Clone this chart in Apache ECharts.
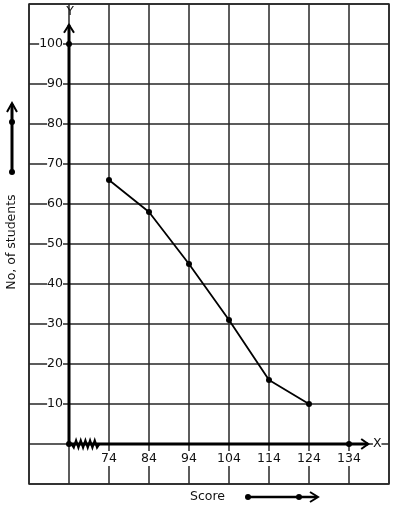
<!DOCTYPE html>
<html><head><meta charset="utf-8">
<script src="https://cdn.jsdelivr.net/npm/echarts@6/dist/echarts.min.js"></script>
<style>html,body{margin:0;padding:0;background:#fff}#c{width:394px;height:510px}</style>
</head><body><div id="c"></div>
<script>
const scores = [74, 84, 94, 104, 114, 124];
const students = [66, 58, 45, 31, 16, 10];
const xTickLabels = [74, 84, 94, 104, 114, 124, 134];
const yTickLabels = [10, 20, 30, 40, 50, 60, 70, 80, 90, 100];
const xRange = [54, 144];
const yRange = [-10, 110];
const origin = [64, 0];
const axisDots = [[64, 0], [64, 100], [134, 0]];
const xAxisEnd = 138.8;
const yAxisEnd = 104.8;
const breakRange = [64.6, 71.6];
const breakTeeth = 6;

const chart = echarts.init(document.getElementById('c'), null, {renderer: 'canvas'});
const font = 'DejaVu Sans';
const ink = '#111';
const gridColor = '#262626';

chart.setOption({
  animation: false,
  grid: {left: 29, top: 4, width: 360, height: 480, show: true, borderColor: gridColor, borderWidth: 1.5, backgroundColor: '#fff'},
  xAxis: {
    type: 'value', min: xRange[0], max: xRange[1], interval: 10, offset: -40,
    axisLine: {show: false, onZero: false}, axisTick: {show: false},
    splitLine: {show: true, lineStyle: {color: gridColor, width: 1.5}},
    axisLabel: {margin: 7, fontFamily: font, fontSize: 12.5, color: ink, backgroundColor: '#fff', padding: [1, 0],
      formatter: v => xTickLabels.includes(v) ? String(v) : ''}
  },
  yAxis: {
    type: 'value', min: yRange[0], max: yRange[1], interval: 10, offset: -40,
    axisLine: {show: false, onZero: false}, axisTick: {show: false},
    splitLine: {show: true, lineStyle: {color: gridColor, width: 1.5}},
    axisLabel: {margin: 6, fontFamily: font, fontSize: 12.5, color: ink, backgroundColor: '#fff', padding: [0, 0],
      formatter: v => yTickLabels.includes(v) ? String(v) : ''}
  },
  series: [{
    type: 'line', data: scores.map((s, i) => [s, students[i]]),
    symbol: 'circle', symbolSize: 6, z: 5,
    lineStyle: {color: '#000', width: 1.8}, itemStyle: {color: '#000'}
  }]
});

const P = (x, y) => chart.convertToPixel({gridIndex: 0}, [x, y]);
const o = P(origin[0], origin[1]);
const yTop = P(origin[0], yAxisEnd);
const xEnd = P(xAxisEnd, origin[1]);
const b0 = P(breakRange[0], 0), b1 = P(breakRange[1], 0);
const zig = [];
const n = breakTeeth * 2;
for (let i = 0; i <= n; i++) {
  zig.push([b0[0] + (b1[0] - b0[0]) * i / n, o[1] + (i === 0 || i === n ? 0 : (i % 2 ? 3.5 : -3.5))]);
}
const blk = '#000';
const line = (x1, y1, x2, y2, w) => ({type: 'line', shape: {x1, y1, x2, y2}, style: {stroke: blk, lineWidth: w}});
const poly = (pts, w) => ({type: 'polyline', shape: {points: pts}, style: {stroke: blk, lineWidth: w, fill: null}});
const dot = (x, y, r) => ({type: 'circle', shape: {cx: x, cy: y, r: r || 3}, style: {fill: blk}});
const txt = (x, y, t, extra) => Object.assign({type: 'text', x, y, style: {text: t, font: '12.5px "DejaVu Sans"', fill: ink, textAlign: 'center', textVerticalAlign: 'middle'}}, extra || {});

const g = [];
g.push(line(o[0], o[1], yTop[0], yTop[1], 3));
g.push(poly([[yTop[0] - 5, yTop[1] + 8], [yTop[0], yTop[1]], [yTop[0] + 5, yTop[1] + 8]], 2));
g.push(line(o[0], o[1], xEnd[0], xEnd[1], 3));
g.push(poly([[xEnd[0] - 7, xEnd[1] - 5], [xEnd[0], xEnd[1]], [xEnd[0] - 7, xEnd[1] + 5]], 2));
g.push(poly(zig, 2.2));
axisDots.forEach(d => { const p = P(d[0], d[1]); g.push(dot(p[0], p[1], 3)); });
g.push(txt(yTop[0] + 1, 12, 'Y'));
const xl = txt(xEnd[0] + 9, xEnd[1], 'X'); xl.style.backgroundColor = '#fff'; g.push(xl);
// left y-name arrow
g.push(line(12, 172, 12, 104, 3));
g.push(poly([[7, 112], [12, 103], [17, 112]], 2));
g.push(dot(12, 122, 3)); g.push(dot(12, 172, 3));
g.push(txt(12, 242, 'No, of students', {rotation: Math.PI / 2}));
// score name arrow
g.push(txt(190, 497, 'Score', {style: {text: 'Score', font: '12.5px "DejaVu Sans"', fill: ink, textAlign: 'left', textVerticalAlign: 'middle'}}));
g.push(line(248, 497, 317, 497, 2.5));
g.push(poly([[310, 492], [318, 497], [310, 502]], 2));
g.push(dot(248, 497, 3)); g.push(dot(299, 497, 3));

chart.setOption({graphic: {elements: g.map(e => Object.assign({z: 100}, e))}});
</script>
</body></html>
